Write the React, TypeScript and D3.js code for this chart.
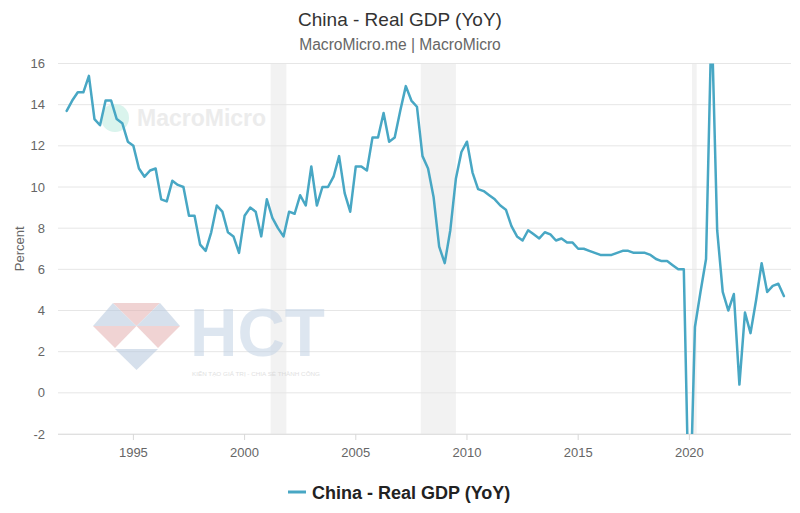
import React from 'react';
import * as d3 from 'd3';

const title = 'China - Real GDP (YoY)';
const subtitle = 'MacroMicro.me | MacroMicro';
const seriesName = 'China - Real GDP (YoY)';
const yAxisTitle = 'Percent';

const startYear = 1992;
// Quarterly real GDP YoY (%), 1992Q1 .. 2024Q2
const gdp = [
  13.7, 14.2, 14.6, 14.6,
  15.4, 13.3, 13.0, 14.2,
  14.2, 13.3, 13.1, 12.2,
  12.0, 10.9, 10.5, 10.8,
  10.9, 9.4, 9.3, 10.3,
  10.1, 10.0, 8.6, 8.6,
  7.2, 6.9, 7.8, 9.1,
  8.8, 7.8, 7.6, 6.8,
  8.6, 9.0, 8.8, 7.6,
  9.4, 8.5, 8.0, 7.6,
  8.8, 8.7, 9.6, 9.1,
  11.0, 9.1, 10.0, 10.0,
  10.5, 11.5, 9.7, 8.8,
  11.0, 11.0, 10.8, 12.4,
  12.4, 13.6, 12.2, 12.4,
  13.7, 14.9, 14.2, 13.9,
  11.5, 10.9, 9.5, 7.1,
  6.3, 7.9, 10.4, 11.7,
  12.2, 10.7, 9.9, 9.8,
  9.6, 9.4, 9.1, 8.9,
  8.1, 7.6, 7.4, 7.9,
  7.7, 7.5, 7.8, 7.7,
  7.4, 7.5, 7.3, 7.3,
  7.0, 7.0, 6.9, 6.8,
  6.7, 6.7, 6.7, 6.8,
  6.9, 6.9, 6.8, 6.8,
  6.8, 6.7, 6.5, 6.4,
  6.4, 6.2, 6.0, 6.0,
  -6.8, 3.2, 4.9, 6.5,
  18.3, 7.9, 4.9, 4.0,
  4.8, 0.4, 3.9, 2.9,
  4.5, 6.3, 4.9, 5.2,
  5.3, 4.7,
];
const quarters = gdp.map((_, i) => startYear + i / 4);

const recessions: [number, number][] = [
  [2001.17, 2001.88],
  [2007.92, 2009.5],
  [2020.12, 2020.33],
];

const yTicks = [-2, 0, 2, 4, 6, 8, 10, 12, 14, 16];
const xTicks = [1995, 2000, 2005, 2010, 2015, 2020];

const FONT = '"Liberation Sans", Arial, Helvetica, sans-serif';
const LINE_COLOR = '#48a7c4';

export default function App() {
  const W = 800;
  const H = 513;
  const left = 58, right = 791, top = 63.5, bottom = 434;
  const x = d3.scaleLinear().domain([1991.61, 2024.57]).range([left, right]);
  const y = d3.scaleLinear().domain([-2, 16]).range([bottom, top]);

  const line = d3
    .line<number>()
    .x((_, i) => x(quarters[i]))
    .y((d) => y(d))
    .curve(d3.curveLinear);

  return (
    <svg
      width={W}
      height={H}
      style={{ position: 'absolute', left: 0, top: 0, display: 'block', background: '#fff' }}
      fontFamily={FONT}
    >
      <defs>
        <clipPath id="plot">
          <rect x={left} y={top} width={right - left} height={bottom - top} />
        </clipPath>
      </defs>
      <rect x={0} y={0} width={W} height={H} fill="#fff" />

      {/* title */}
      <text x={400} y={26} textAnchor="middle" fontSize={19} fill="#333">
        {title}
      </text>
      <text x={400} y={49.5} textAnchor="middle" fontSize={15.6} fill="#666">
        {subtitle}
      </text>

      {/* recession bands */}
      {recessions.map(([a, b], i) => (
        <rect key={i} x={x(a)} y={top} width={x(b) - x(a)} height={bottom - top} fill="#f2f2f2" />
      ))}

      {/* grid */}
      {yTicks.map((t) => (
        <line key={t} x1={left} x2={right} y1={y(t)} y2={y(t)} stroke="#e6e6e6" strokeWidth={1} />
      ))}
      {yTicks.map((t) => (
        <text key={'l' + t} x={45} y={y(t)} dy="0.35em" textAnchor="end" fontSize={13} fill="#666">
          {t}
        </text>
      ))}
      <text
        transform={`translate(24,${(top + bottom) / 2}) rotate(-90)`}
        textAnchor="middle"
        fontSize={13}
        fill="#666"
      >
        {yAxisTitle}
      </text>

      {/* x axis */}
      <line x1={left} x2={right} y1={bottom + 0.5} y2={bottom + 0.5} stroke="#e0e0e0" />
      {xTicks.map((t) => (
        <g key={t}>
          <line x1={x(t)} x2={x(t)} y1={bottom} y2={bottom + 6} stroke="#d8d8d8" />
          <text x={x(t)} y={457} textAnchor="middle" fontSize={13} fill="#666">
            {t}
          </text>
        </g>
      ))}

      {/* watermarks */}
      <g opacity={0.9}>
        <circle cx={115} cy={118} r={14} fill="#d6f3ec" />
        <text x={137} y={126} fontSize={23} fontWeight="bold" fill="#ebebeb">
          MacroMicro
        </text>
      </g>
      <g opacity={0.55}>
        <polygon points="113,303 93,326 136.5,326" fill="#b6c8de" />
        <polygon points="113,303 160,303 136.5,326" fill="#e4b0b0" />
        <polygon points="160,303 180,326 136.5,326" fill="#b6c8de" />
        <polygon points="93,326 136.5,326 115,348" fill="#e4b0b0" />
        <polygon points="136.5,326 180,326 158,348" fill="#e4b0b0" />
        <polygon points="115,349 158,349 136.5,370" fill="#b6c8de" />
        <text
          x={190}
          y={356}
          fontSize={68}
          fontWeight="bold"
          fill="#c3d3e5"
          textLength={135}
          lengthAdjust="spacingAndGlyphs"
        >
          HCT
        </text>
        <text x={192} y={376} fontSize={5} fill="#c8c8c8" textLength={128} lengthAdjust="spacingAndGlyphs">
          KIẾN TẠO GIÁ TRỊ - CHIA SẺ THÀNH CÔNG
        </text>
      </g>

      {/* series */}
      <g clipPath="url(#plot)">
        <path
          d={line(gdp) || ''}
          fill="none"
          stroke={LINE_COLOR}
          strokeWidth={2.5}
          strokeLinejoin="round"
          strokeLinecap="round"
        />
      </g>

      {/* legend */}
      <line x1={288} x2={306} y1={492} y2={492} stroke={LINE_COLOR} strokeWidth={3} />
      <text x={312} y={498.5} fontSize={18} fontWeight="bold" fill="#222">
        {seriesName}
      </text>
    </svg>
  );
}
